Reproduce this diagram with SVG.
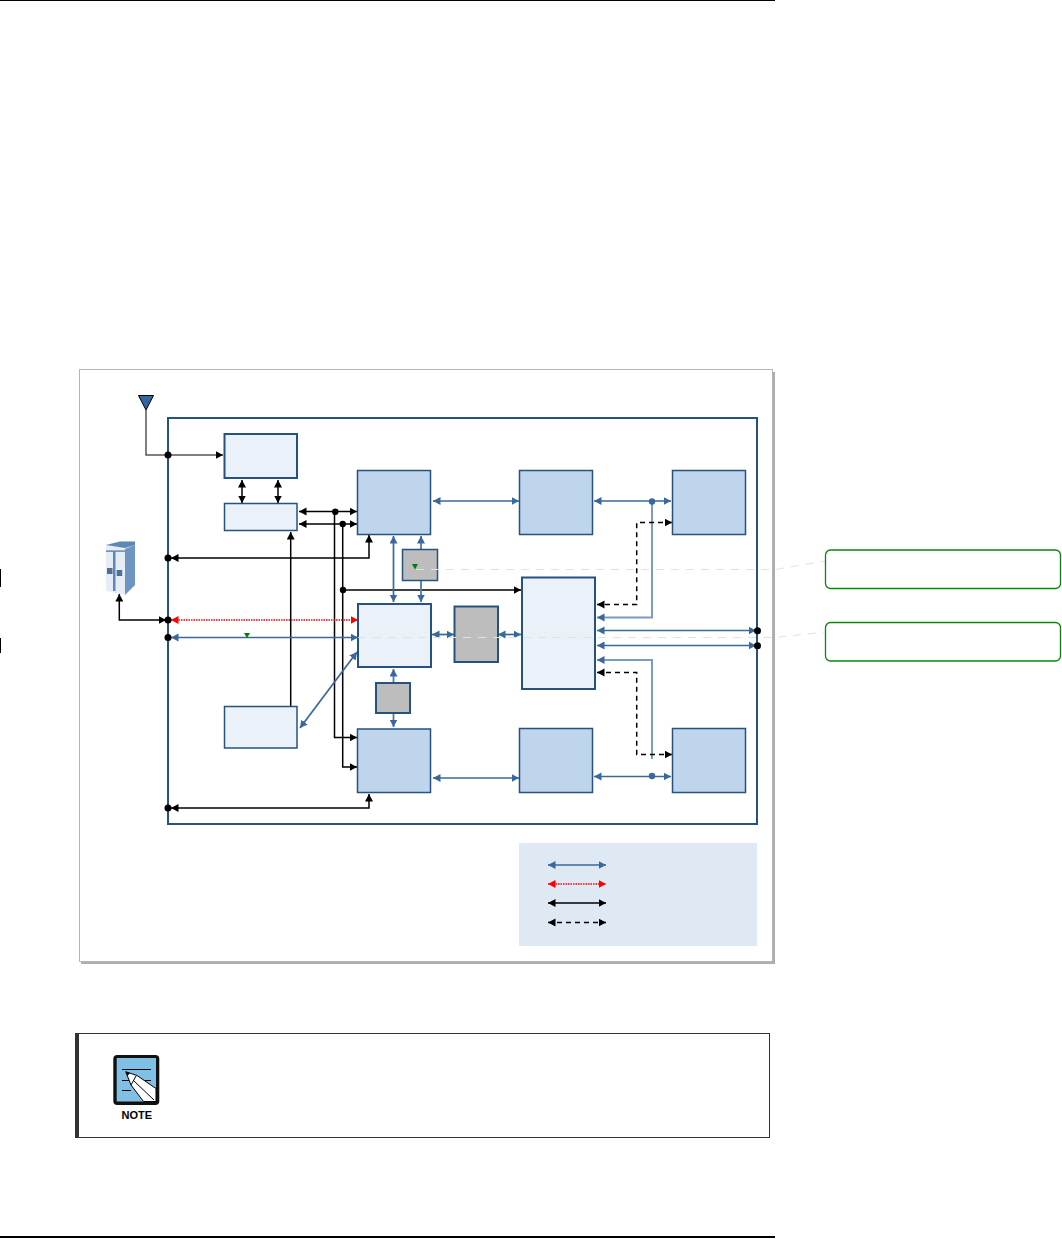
<svg xmlns="http://www.w3.org/2000/svg" width="1062" height="1239" viewBox="0 0 1062 1239">
<style>
.pale{fill:#eaf1f9;stroke:#26527f}
.mid{fill:#bfd5ec;stroke:#26527f;stroke-width:1.5}
.grey{fill:#bdbdbd;stroke:#26527f}
.w2{stroke-width:2}
.w15{stroke-width:1.5}
.ln{fill:none;stroke-linejoin:miter}
.bl{stroke:#38689c;stroke-width:1.7;marker-start:url(#ab);marker-end:url(#ab)}
.ble{stroke:#4f7aa8;stroke-width:1.8;marker-end:url(#ab)}
.blp{stroke:#7a9cc0;stroke-width:2}
.rd{stroke:#ff0000;stroke-width:1.5;stroke-dasharray:1.5 1;marker-start:url(#ar);marker-end:url(#ar)}
.bk{stroke:#000;stroke-width:1.5;marker-start:url(#ak);marker-end:url(#ak)}
.bke{stroke:#000;stroke-width:1.5;marker-end:url(#ak)}
.ds{stroke:#000;stroke-width:1.5;stroke-dasharray:5 4;marker-start:url(#ak);marker-end:url(#ak)}
.faint{fill:none;stroke:#dbe6db;stroke-width:1;stroke-dasharray:8 7}
.callout{fill:#fff;stroke:#0a860a;stroke-width:1.3}
.dk{fill:#000}
.dbl{fill:#38689c}
.gt{fill:#008000}
</style>
<defs>
<marker id="ab" markerUnits="userSpaceOnUse" markerWidth="9" markerHeight="9" refX="7.5" refY="4" orient="auto-start-reverse"><path d="M0,0 L7.5,4 L0,8 Z" fill="#38689c"/></marker>
<marker id="ar" markerUnits="userSpaceOnUse" markerWidth="9" markerHeight="9" refX="7.5" refY="4" orient="auto-start-reverse"><path d="M0,0 L7.5,4 L0,8 Z" fill="#ff0000"/></marker>
<marker id="ak" markerUnits="userSpaceOnUse" markerWidth="9" markerHeight="9" refX="7.5" refY="4" orient="auto-start-reverse"><path d="M0,0 L7.5,4 L0,8 Z" fill="#000"/></marker>
</defs>
<rect width="1062" height="1239" fill="#fff"/>
<g id="page-rules">
<line x1="0" y1="0.5" x2="775" y2="0.5" stroke="#000" stroke-width="1"/>
<line x1="0" y1="1237" x2="775" y2="1237" stroke="#000" stroke-width="2"/>
<line x1="0.5" y1="569" x2="0.5" y2="587" stroke="#000"/>
<line x1="0.5" y1="638" x2="0.5" y2="653" stroke="#000"/>
</g>
<g id="frame">
<rect x="81" y="372" width="694" height="592" fill="#adadad"/>
<rect x="79.5" y="369.5" width="693" height="592" fill="#fff" stroke="#b5b5b5"/>
</g>
<g id="board"><rect x="168" y="418" width="589" height="406" fill="#fff" stroke="#26527f" stroke-width="2"/></g>
<g id="connectors">
<path class="ln" stroke="#555" stroke-width="1.5" marker-end="url(#ak)" d="M146,410 V455 H223"/>
<line class="ln bk" x1="242" y1="480" x2="242" y2="503"/>
<line class="ln bk" x1="278" y1="480" x2="278" y2="503"/>
<line class="ln bk" x1="299" y1="511.5" x2="357" y2="511.5"/>
<line class="ln bk" x1="299" y1="524" x2="357" y2="524"/>
<path class="ln bke" d="M334.5,511.5 V737.5 H357"/>
<path class="ln bke" d="M342.7,524 V767 H357"/>
<line class="ln bke" x1="343" y1="590" x2="521" y2="590"/>
<line class="ln bke" x1="290.7" y1="706" x2="290.7" y2="532"/>
<path class="ln bk" d="M171,558 H369 V535"/>
<path class="ln bk" d="M171,808 H369 V794"/>
<path class="ln bk" d="M119.3,594 V620 H166"/>
<line class="ln rd" x1="171" y1="620" x2="358" y2="620"/>
<line class="ln bl" x1="171" y1="637.5" x2="358" y2="637.5"/>
<line class="ln bl" x1="393.5" y1="536" x2="393.5" y2="602"/>
<line class="ln ble" x1="421" y1="549" x2="421" y2="536"/>
<line class="ln ble" x1="421" y1="580" x2="421" y2="602"/>
<line class="ln bl" x1="433" y1="501" x2="519" y2="501"/>
<line class="ln bl" x1="594" y1="501" x2="671" y2="501"/>
<line class="ln bl" x1="432" y1="634.5" x2="454" y2="634.5"/>
<line class="ln bl" x1="498" y1="634.5" x2="521" y2="634.5"/>
<line class="ln bl" x1="597" y1="630.5" x2="756" y2="630.5"/>
<line class="ln bl" x1="597" y1="645.5" x2="756" y2="645.5"/>
<path class="ln blp" marker-end="url(#ab)" d="M652,501 V617.5 H597"/>
<path class="ln blp" marker-end="url(#ab)" d="M652,759 V660 H597"/>
<path class="ln ds" d="M672,522.5 H636.7 V604.5 H597"/>
<path class="ln ds" d="M597,672.5 H636.7 V754.5 H672"/>
<line class="ln bl" x1="594" y1="776.5" x2="671" y2="776.5"/>
<line class="ln bl" x1="433" y1="778" x2="519" y2="778"/>
<line class="ln ble" x1="393.5" y1="682.5" x2="393.5" y2="669"/>
<line class="ln ble" x1="393.5" y1="713" x2="393.5" y2="727"/>
<line class="ln bl" x1="300" y1="728" x2="357" y2="652"/>
</g>
<g id="node-a"><rect class="pale w2" x="224.5" y="434" width="72.5" height="44"/></g>
<g id="node-b"><rect class="pale w15" x="224.5" y="503.5" width="72.5" height="27"/></g>
<g id="node-c"><rect class="mid" x="357.5" y="470.5" width="73" height="64"/></g>
<g id="node-d"><rect class="grey w15" x="402.5" y="549.5" width="35" height="31"/></g>
<g id="node-e"><rect class="pale w2" x="358" y="604" width="73" height="63"/></g>
<g id="node-f"><rect class="grey w2" x="454.5" y="606.5" width="43.5" height="55.5"/></g>
<g id="node-g"><rect class="pale w2" x="522" y="577.5" width="73" height="111.5"/></g>
<g id="node-h"><rect class="mid" x="519.5" y="470.5" width="73" height="64"/></g>
<g id="node-i"><rect class="mid" x="672.5" y="470.5" width="73" height="64"/></g>
<g id="node-j"><rect class="pale w15" x="224.5" y="706.5" width="72.5" height="41.5"/></g>
<g id="node-k"><rect class="grey w2" x="376" y="683" width="34" height="30"/></g>
<g id="node-l"><rect class="mid" x="357.5" y="729" width="73" height="63.5"/></g>
<g id="node-m"><rect class="mid" x="519.5" y="728.5" width="73" height="64"/></g>
<g id="node-n"><rect class="mid" x="672.5" y="728.5" width="73" height="64"/></g>
<g id="legend"><rect x="519" y="843" width="238" height="103" fill="#dfe9f4"/>
<line class="ln bl" x1="548" y1="865" x2="606" y2="865"/>
<line class="ln rd" x1="548" y1="884" x2="606" y2="884"/>
<line class="ln bk" x1="548" y1="903" x2="606" y2="903"/>
<line class="ln ds" x1="548" y1="922.5" x2="606" y2="922.5"/>
</g>
<g id="antenna"><path d="M138.5,395.5 H153.5 L146,410 Z" fill="#33669c" stroke="#000"/></g>
<g id="server">
<path d="M106,545 L120,541.5 H135 V585 L125,595 L106,591 Z" fill="#e6edf6"/>
<path d="M125,549 L135,545 V585 L125,595 Z" fill="#6e95c1"/>
<path d="M106,545 L120,541.5 H135 V545 L125,548 Z" fill="#5f87b5"/>
<rect x="106" y="550.5" width="19" height="1.2" fill="#4d6f98"/>
<rect x="113" y="551" width="2.5" height="40" fill="#5f87b5"/>
<rect x="107" y="568" width="5.5" height="6" fill="#4d6f98"/>
<rect x="116.7" y="570" width="5.5" height="6" fill="#4d6f98"/>
</g>
<g id="overlay">
<path class="faint" d="M416,569.5 H775 L825,561"/>
<path class="faint" d="M358,637.5 H775 L825,632"/>
<circle class="dk" cx="168" cy="455" r="3.5"/>
<circle class="dk" cx="168" cy="558" r="3.5"/>
<circle class="dk" cx="168" cy="620" r="3.5"/>
<circle class="dk" cx="168" cy="637.5" r="3.5"/>
<circle class="dk" cx="168" cy="808" r="3.5"/>
<circle class="dk" cx="335.3" cy="511.7" r="3.2"/>
<circle class="dk" cx="342.7" cy="524" r="3.2"/>
<circle class="dk" cx="343" cy="590" r="3.2"/>
<circle class="dk" cx="757.5" cy="630.7" r="3.5"/>
<circle class="dk" cx="757.5" cy="645.7" r="3.5"/>
<circle class="dbl" cx="652" cy="501.5" r="3.2"/>
<circle class="dbl" cx="652" cy="776" r="3.2"/>
<path class="gt" d="M244,633 H250 L247,638 Z"/>
<path class="gt" d="M412,564 H418 L415,569.5 Z"/>
</g>
<g id="callout-1"><rect class="callout" x="825.5" y="550" width="235" height="38.5" rx="5"/></g>
<g id="callout-2"><rect class="callout" x="825.5" y="622.5" width="235" height="38.5" rx="5"/></g>
<g id="note">
<rect x="75.5" y="1033.5" width="694" height="104" fill="#fff" stroke="#333"/>
<rect x="75" y="1033" width="4" height="105" fill="#333"/>
<rect x="113.3" y="1055" width="46" height="50" rx="4" fill="#111"/>
<rect x="116.7" y="1058" width="39.3" height="43.5" fill="#7fc0e4"/>
<g stroke="#000" stroke-width="1"><line x1="122" y1="1069.5" x2="151" y2="1069.5"/><line x1="122" y1="1080.5" x2="131" y2="1080.5"/><line x1="145" y1="1080.5" x2="151" y2="1080.5"/><line x1="122" y1="1090.5" x2="131" y2="1090.5"/></g>
<path d="M125.7,1071.7 L137,1075.5 L156,1088.5 V1101.5 H143.5 L131,1085 Z" fill="#fff" stroke="#000"/>
<path d="M136,1076 L131,1085 M133,1080 L154,1100" fill="none" stroke="#000"/>
<path d="M125.7,1071.7 L130,1073 L127.5,1076 Z" fill="#000"/>
<text x="136.8" y="1118.7" text-anchor="middle" font-family="'Liberation Sans',Arial,sans-serif" font-size="11" font-weight="700" fill="#000">NOTE</text>
</g>
</svg>
